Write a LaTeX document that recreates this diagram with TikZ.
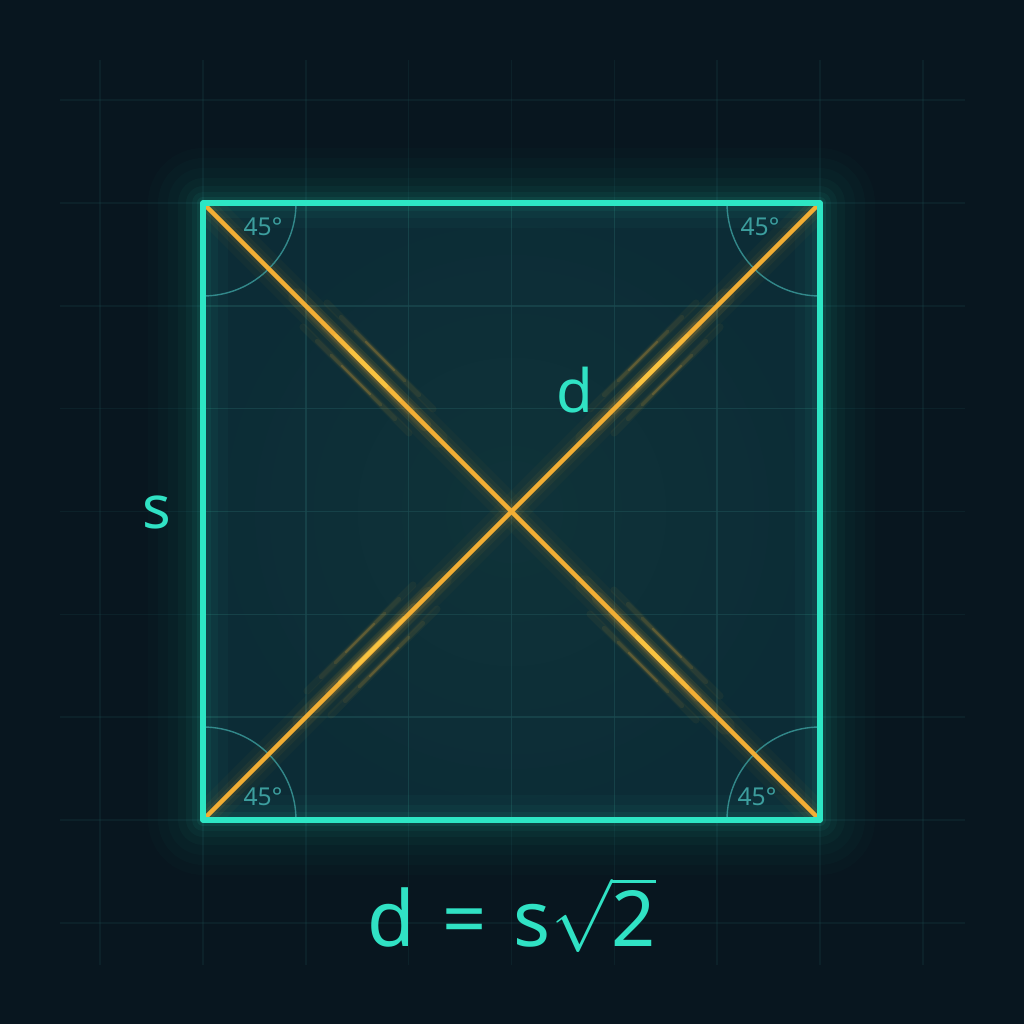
\documentclass[tikz,border=0pt]{standalone}
\usepackage{fontspec}
\setmainfont{Noto Sans}
\definecolor{bg}{HTML}{08161F}
\definecolor{sqfill}{HTML}{0C2C36}
\definecolor{sqmid}{HTML}{0F3339}
\definecolor{teal}{HTML}{2DE6C4}
\definecolor{tealtxt}{HTML}{30E2C4}
\definecolor{dimteal}{HTML}{3C9E9E}
\definecolor{gridc}{HTML}{1B4A50}
\definecolor{orng}{HTML}{F2AE34}
\definecolor{hot}{HTML}{FFD24A}
\tikzset{
  sqline/.style={draw=teal, line width=1.5pt, line join=round},
  diag/.style={draw=orng, line width=1.3pt, line cap=round},
  anglearc/.style={draw=dimteal, line width=0.4pt, opacity=0.8},
  anglelbl/.style={text=dimteal, font=\fontsize{7}{8}\selectfont, inner sep=0pt},
  lbl/.style={text=tealtxt, font=\fontsize{17}{20}\selectfont, inner sep=0pt},
  formula/.style={text=tealtxt, font=\fontsize{22}{26}\selectfont, inner sep=0pt},
  gridline/.style={draw=gridc, line width=0.45pt}
}
\begin{document}
\begin{tikzpicture}[x=0.01cm,y=-0.01cm]
\fill[bg] (0,0) rectangle (1024,1024);
\useasboundingbox (0,0) rectangle (1024,1024);
% corners
\coordinate (A) at (203,203);
\coordinate (B) at (820,203);
\coordinate (C) at (820,820);
\coordinate (D) at (203,820);
% faint outer grid
\foreach \i in {-1,...,7} {
  \draw[gridline, opacity=0.22] ({203+\i*102.83},60) -- ({203+\i*102.83},965);
  \draw[gridline, opacity=0.22] (60,{203+\i*102.83}) -- (965,{203+\i*102.83});
}
% outer glow
\foreach \w/\o in {110/0.015,90/0.02,70/0.025,50/0.03,34/0.04,22/0.05,12/0.08}
  \draw[teal, line width=\w*0.2845pt, opacity=\o, line join=round] (A) rectangle (C);
% square fill
\shade[inner color=sqmid, outer color=sqfill] (A) rectangle (C);
% inner grid
\begin{scope}
\clip (A) rectangle (C);
\foreach \i in {1,...,5} {
  \draw[gridline, opacity=0.7] ({203+\i*102.83},203) -- ({203+\i*102.83},820);
  \draw[gridline, opacity=0.7] (203,{203+\i*102.83}) -- (820,{203+\i*102.83});
}
% inner glow along edges
\foreach \w/\o in {50/0.03,30/0.04,16/0.06}
  \draw[teal, line width=\w*0.2845pt, opacity=\o] (A) rectangle (C);
% diagonal glows
\foreach \w/\o in {30/0.03,18/0.05,10/0.08}{
  \draw[orng, line width=\w*0.2845pt, opacity=\o] (A) -- (C);
  \draw[orng, line width=\w*0.2845pt, opacity=\o] (D) -- (B);
}
% glow streaks: center x, center y, direction ux, uy
\foreach \cx/\cy/\ux/\uy in {368/368/0.7071/0.7071, 655/655/0.7071/0.7071, 655/368/0.7071/-0.7071, 372/650/0.7071/-0.7071}{
  \foreach \L/\w/\o in {100/18/0.05, 80/13/0.07, 60/9/0.1, 40/6/0.14, 25/4/0.2}
    \draw[orng, line width=\w*0.2845pt, opacity=\o, line cap=round]
      ({\cx-\L*\ux},{\cy-\L*\uy}) -- ({\cx+\L*\ux},{\cy+\L*\uy});
  \foreach \s in {-1,1}
    \foreach \L/\w/\o in {75/7/0.05, 55/4.5/0.08, 35/3/0.12, 20/2/0.18}
      \draw[orng, line width=\w*0.2845pt, opacity=\o, line cap=round]
        ({\cx+\s*17*\uy-\L*\ux},{\cy-\s*17*\ux-\L*\uy}) -- ({\cx+\s*17*\uy+\L*\ux},{\cy-\s*17*\ux+\L*\uy});
}
\end{scope}
% angle arcs
\draw[anglearc] (296,203) arc[start angle=0, end angle=90, radius=93];
\draw[anglearc] (727,203) arc[start angle=180, end angle=90, radius=93];
\draw[anglearc] (296,820) arc[start angle=0, end angle=-90, radius=93];
\draw[anglearc] (727,820) arc[start angle=180, end angle=270, radius=93];
% diagonals
\draw[diag] (A) -- (C);
\draw[diag] (D) -- (B);
% hot spots on the diagonals
\foreach \cx/\cy/\ux/\uy in {368/368/0.7071/0.7071, 655/655/0.7071/0.7071, 655/368/0.7071/-0.7071, 372/650/0.7071/-0.7071}
  \foreach \L/\o in {45/0.25, 25/0.45}
    \draw[hot, line width=1.3pt, opacity=\o, line cap=round]
      ({\cx-\L*\ux},{\cy-\L*\uy}) -- ({\cx+\L*\ux},{\cy+\L*\uy});
% square
\draw[sqline] (A) rectangle (C);
% labels
\node[anglelbl] (a1) at (263,227) {45°};
\node[anglelbl] (a2) at (760,227) {45°};
\node[anglelbl] (a3) at (263,797) {45°};
\node[anglelbl] (a4) at (757,797) {45°};
\node[lbl] (s) at (157,512) {s};
\node[lbl] (d) at (575,390) {d};
\node[formula] (f) at (512,915) {d\hspace{0.35em}=\hspace{0.35em}s$\sqrt{\hbox{2}}$};
\end{tikzpicture}
\end{document}
